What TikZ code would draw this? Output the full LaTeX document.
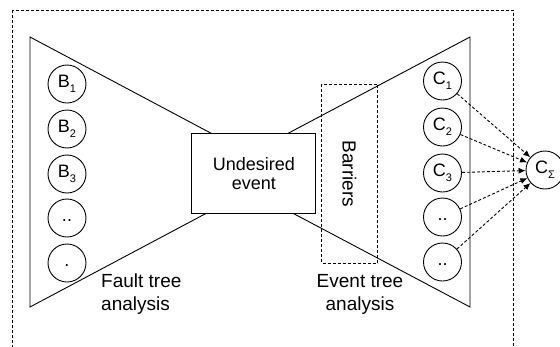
\documentclass[tikz,border=0pt]{standalone}
\usepackage{fontspec}
\setmainfont{Liberation Sans}
\usetikzlibrary{arrows.meta}
\newcommand{\sbs}[1]{\raisebox{-0.28em}{\fontsize{11}{11}\selectfont #1}}
\begin{document}
\begin{tikzpicture}[x=1pt,y=-1pt,
  ln/.style={line width=0.9pt, line join=miter},
  dsh/.style={line width=0.9pt, dash pattern=on 3pt off 2pt},
  circ/.style={circle, draw, line width=0.9pt, fill=white, minimum size=38pt, inner sep=0pt, font=\fontsize{18}{18}\selectfont},
  lbl/.style={font=\fontsize{19}{23}\selectfont, inner sep=0pt},
  evbox/.style={draw, line width=0.9pt, fill=white, minimum width=124pt, minimum height=80pt, inner sep=0pt, align=center, font=\fontsize{18}{19}\selectfont},
  barbox/.style={draw, dsh, rotate=-90, minimum width=179pt, minimum height=56pt, inner sep=0pt, font=\fontsize{19}{19}\selectfont},
  arr/.style={dsh, -{Latex[length=7pt,width=6pt]}}]
\useasboundingbox (0,0) rectangle (560,346);
\clip (0,0) rectangle (560,346);
% outer dashed frame
\draw[dsh] (12,10) rectangle (513,370);
% triangles
\coordinate (lt) at (30,37);
\coordinate (lb) at (30,307);
\coordinate (la) at (284,172);
\coordinate (rt) at (470,37);
\coordinate (rb) at (470,307);
\coordinate (ra) at (215,172);
\draw[ln] (lt) -- (lb) -- (la) -- cycle;
\draw[ln] (rt) -- (rb) -- (ra) -- cycle;
% barriers
\node[barbox] (bar) at (349.5,173.7) {Barriers};
% undesired event
\node[evbox] (ev) at (253.8,173.2) {Undesired\\event};
% B circles
\node[circ] (b1) at (67,84) {\vphantom{B\sbs{1}}B\sbs{1}};
\node[circ] (b2) at (67,129) {\vphantom{B\sbs{1}}B\sbs{2}};
\node[circ] (b3) at (67,174) {\vphantom{B\sbs{1}}B\sbs{3}};
\node[circ] (b4) at (67,218) {\vphantom{B\sbs{1}}..};
\node[circ] (b5) at (67,263) {\vphantom{B\sbs{1}}.};
% C circles
\node[circ] (c1) at (442.5,81) {\vphantom{B\sbs{1}}C\sbs{1}};
\node[circ] (c2) at (442.5,127) {\vphantom{B\sbs{1}}C\sbs{2}};
\node[circ] (c3) at (442.5,173) {\vphantom{B\sbs{1}}C\sbs{3}};
\node[circ] (c4) at (442.5,217) {\vphantom{B\sbs{1}}..};
\node[circ] (c5) at (442.5,262) {\vphantom{B\sbs{1}}..};
\node[circ] (cs) at (545,170) {\vphantom{B\sbs{1}}C\sbs{Σ}};
% arrows
\draw[arr] (c1) -- (cs);
\draw[arr] (c2) -- (cs);
\draw[arr] (c3) -- (cs);
\draw[arr] (c4) -- (cs);
\draw[arr] (c5) -- (cs);
% labels
\node[lbl, align=left, anchor=base west] (fta) at (101,310) {Fault tree\\analysis};
\node[lbl, align=center, anchor=base] (eta) at (360,310) {Event tree\\analysis};
\end{tikzpicture}
\end{document}
